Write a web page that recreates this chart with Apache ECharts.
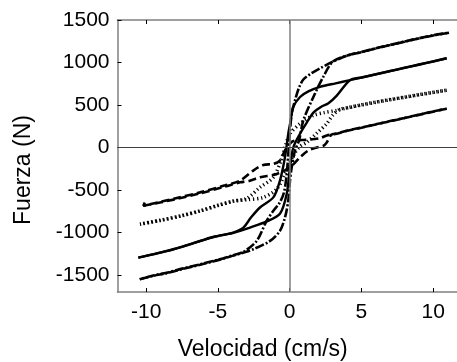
<!DOCTYPE html>
<html><head><meta charset="utf-8">
<script src="https://cdn.jsdelivr.net/npm/echarts@6/dist/echarts.min.js"></script>
<style>html,body{margin:0;padding:0;background:#fff}#c{width:457px;height:362px}</style>
</head><body><div id="c"></div><script>
const xTicks = [-10, -5, 0, 5, 10];
const yTicks = [-1500, -1000, -500, 0, 500, 1000, 1500];

// dash-dot loop (largest)
const dashDotUpper = [[11.1,1350],[10,1318],[9,1283],[8,1245],[7,1205],[6,1165],[5,1122],[4,1080],[3,1010],[2.1,930],[1.4,860],[0.95,800],[0.65,705],[0.37,555],[0.14,398],[-0.03,83],[-0.2,-300],[-0.4,-530],[-0.7,-650],[-1.14,-745],[-1.6,-860],[-2.3,-1099],[-3.2,-1225],[-4,-1270],[-5,-1320],[-6.25,-1375],[-7.5,-1425],[-8.57,-1474],[-9.5,-1505],[-10.45,-1550]];
const dashDotLower = [[-10.45,-1550],[-9.5,-1510],[-8.57,-1478],[-7.5,-1430],[-6.25,-1380],[-5,-1325],[-4,-1275],[-3.2,-1235],[-2.54,-1197],[-1.37,-1099],[-0.68,-981],[-0.33,-824],[-0.1,-626],[0.02,-390],[0.14,-233],[0.37,-35],[0.65,83],[0.95,319],[1.65,594],[2.34,831],[3,1010],[4,1082],[5,1124],[6,1167],[7,1207],[8,1247],[9,1285],[10,1320],[11.1,1350]];

// solid loop
const solidUpper = [[10.94,1050],[10,1012],[9,974],[8,936],[7,898],[6,860],[5,822],[4.2,792],[3.2,755],[2.11,713],[1.3,660],[0.72,594],[0.25,476],[0.05,300],[-0.1,162],[-0.33,-115],[-0.68,-390],[-1.14,-587],[-2.07,-706],[-2.7,-824],[-3.23,-942],[-3.93,-1001],[-4.4,-1020],[-5.3,-1050],[-6.25,-1100],[-7.5,-1165],[-8.57,-1217],[-9.5,-1255],[-10.55,-1295]];
const solidLower = [[-10.55,-1295],[-9.5,-1258],[-8.57,-1220],[-7.5,-1168],[-6.25,-1102],[-5.3,-1055],[-4.4,-1022],[-3.93,-1005],[-2.77,-942],[-1.6,-870],[-0.68,-780],[-0.21,-547],[0.02,-233],[0.25,0],[0.72,162],[1.18,290],[1.65,410],[2.2,480],[2.7,520],[3.28,610],[4.2,792],[5,824],[6,862],[7,900],[8,938],[9,976],[10,1014],[10.94,1050]];

// dotted loop
const dottedUpper = [[10.94,674],[9,620],[8,590],[7,562],[6,532],[5,500],[4,465],[3.28,437],[2.4,410],[1.65,378],[0.72,280],[0.02,162],[-0.3,20],[-0.6,-150],[-1.14,-351],[-2.07,-469],[-3,-600],[-3.93,-630],[-5,-680],[-6.25,-745],[-7.5,-800],[-9,-855],[-10.43,-902]];
const dottedLower = [[-10.43,-902],[-9,-858],[-7.5,-803],[-6.25,-748],[-5,-683],[-3.93,-633],[-3,-615],[-1.84,-587],[-0.9,-488],[-0.3,-300],[0.3,-80],[0.7,10],[1.18,60],[1.9,170],[2.58,280],[3,380],[3.5,450],[4,467],[5,502],[6,534],[7,564],[8,592],[9,622],[10.94,674]];

// dashed loop
const dashedUpper = [[10.94,457],[10,422],[9,384],[8,346],[7,309],[6,271],[5,233],[4,196],[3.28,162],[2.58,142],[2.11,110],[1.18,90],[0.5,85],[0.1,60],[-0.33,-35],[-0.68,-154],[-1.14,-193],[-1.84,-205],[-2.54,-272],[-3.46,-390],[-4.5,-445],[-6.25,-528],[-8,-600],[-10.2,-686],[-10.1,-647]];
const dashedLower = [[-10.2,-686],[-8,-610],[-6.25,-540],[-4.5,-460],[-3.46,-410],[-2.77,-390],[-2.07,-351],[-0.9,-311],[0.02,-233],[0.72,-115],[1.3,-35],[1.9,0],[2.34,20],[2.58,60],[2.9,150],[3.28,165],[4,198],[5,235],[6,273],[7,311],[8,348],[9,386],[10,424],[10.94,457]];

const font = 'Liberation Sans, Arial, sans-serif';
const chart = echarts.init(document.getElementById('c'), null, {renderer: 'canvas'});

function loop(data, type, width) {
  return {
    type: 'line', data: data, showSymbol: false, smooth: 0.3, z: 3,
    lineStyle: {color: '#000', width: width, type: type, cap: 'butt'}
  };
}

const dashDot = [9, 2, 2, 2];
const dashed = [8, 4];
const dotted = [1.2, 2.8];

const option = {
  animation: false,
  backgroundColor: '#fff',
  grid: {left: 117.5, top: 20, right: -4.9, bottom: 70, containLabel: false, outerBoundsMode: 'none'},
  xAxis: [{
    type: 'value', min: -12, max: 12, position: 'bottom',
    axisLine: {show: true, onZero: false, lineStyle: {color: '#808080', width: 1.5}},
    axisTick: {show: true, inside: true, length: 4, customValues: xTicks, lineStyle: {color: '#000', width: 1}},
    axisLabel: {customValues: xTicks, fontSize: 21, color: '#000', fontFamily: font, margin: 10, formatter: v => String(v)},
    splitLine: {show: false},
    name: 'Velocidad (cm/s)', nameLocation: 'middle', nameGap: 46,
    nameTextStyle: {fontSize: 23, color: '#000', fontFamily: font, padding: [0, 54, 0, 0]}
  }, {
    type: 'value', min: -12, max: 12, position: 'top',
    axisLine: {show: true, onZero: false, lineStyle: {color: '#808080', width: 1.5}},
    axisTick: {show: true, inside: true, length: 4, customValues: xTicks, lineStyle: {color: '#000', width: 1}},
    axisLabel: {show: false},
    splitLine: {show: false}
  }],
  yAxis: [{
    type: 'value', min: -1700, max: 1500, position: 'left',
    axisLine: {show: true, onZero: false, lineStyle: {color: '#808080', width: 1.5}},
    axisTick: {show: true, inside: true, length: 4, customValues: yTicks, lineStyle: {color: '#000', width: 1}},
    axisLabel: {customValues: yTicks, fontSize: 21, color: '#000', fontFamily: font, margin: 8, formatter: v => String(v)},
    splitLine: {show: false},
    name: 'Fuerza (N)', nameLocation: 'middle', nameGap: 82,
    nameTextStyle: {fontSize: 23, color: '#000', fontFamily: font, padding: [0, 28, 0, 0]}
  }],
  series: [
    {
      type: 'line', data: [[0, 0]], showSymbol: false, z: 1, lineStyle: {width: 0},
      markLine: {
        silent: true, symbol: ['none', 'none'], label: {show: false},
        data: [
          {xAxis: 0, lineStyle: {color: '#808080', width: 1.5, type: 'solid'}},
          {yAxis: 0, lineStyle: {color: '#404040', width: 1, type: 'solid'}}
        ]
      }
    },
    loop(dashDotUpper, dashDot, 2.6),
    loop(dashDotLower, dashDot, 2.6),
    loop(solidUpper, 'solid', 2.4),
    loop(solidLower, 'solid', 2.4),
    loop(dottedUpper, dotted, 3.5),
    loop(dottedLower, dotted, 3.5),
    loop(dashedUpper, dashed, 2.6),
    loop(dashedLower, dashed, 2.6)
  ]
};
chart.setOption(option);
</script></body></html>
